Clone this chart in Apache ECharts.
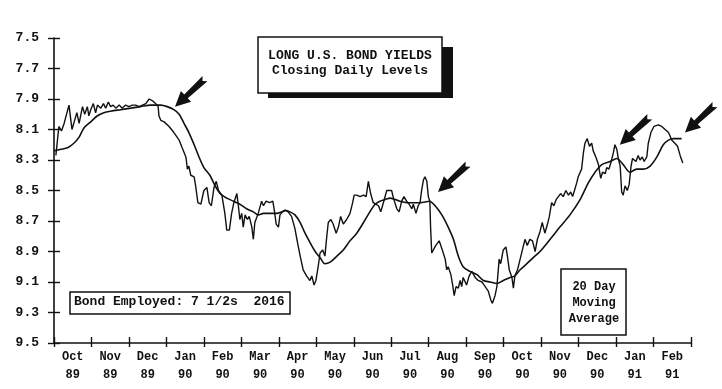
<!DOCTYPE html>
<html><head><meta charset="utf-8">
<script src="https://cdn.jsdelivr.net/npm/echarts@6/dist/echarts.min.js"></script>
<style>html,body{margin:0;padding:0;background:#fff}#c{width:722px;height:389px}</style>
</head><body><div id="c"></div>
<script>
// x positions in months since 1 Oct 1989 (0 = start of Oct 89, 17 = end of Feb 91)
const monthLabels = ['Oct','Nov','Dec','Jan','Feb','Mar','Apr','May','Jun','Jul','Aug','Sep','Oct','Nov','Dec','Jan','Feb'];
const yearLabels  = ['89','89','89','90','90','90','90','90','90','90','90','90','90','90','90','91','91'];

const dailyX = [0.05,0.13,0.2,0.27,0.4,0.45,0.48,0.55,0.61,0.67,0.76,0.82,0.89,0.93,0.98,1.05,1.11,1.16,1.25,1.32,
1.38,1.45,1.51,1.58,1.65,1.74,1.82,1.91,2.0,2.09,2.18,2.27,2.36,2.45,2.54,2.62,2.71,2.78,2.8,2.85,
2.94,3.07,3.2,3.34,3.42,3.52,3.56,3.6,3.65,3.74,3.78,3.84,3.92,4.0,4.08,4.14,4.2,4.27,4.33,4.39,
4.48,4.56,4.61,4.68,4.74,4.8,4.88,4.92,4.96,5.01,5.05,5.1,5.16,5.21,5.28,5.32,5.36,5.45,5.54,5.59,
5.66,5.75,5.84,5.88,5.93,5.99,6.03,6.1,6.17,6.25,6.34,6.43,6.49,6.57,6.65,6.74,6.83,6.88,6.94,6.99,
7.05,7.1,7.17,7.23,7.28,7.32,7.39,7.45,7.53,7.59,7.65,7.72,7.81,7.9,7.97,8.01,8.08,8.17,8.26,8.33,
8.39,8.45,8.52,8.59,8.66,8.72,8.79,8.88,9.01,9.07,9.15,9.21,9.28,9.34,9.41,9.48,9.55,9.59,9.66,9.72,
9.77,9.81,9.86,9.9,9.95,9.99,10.03,10.05,10.08,10.12,10.19,10.23,10.28,10.35,10.39,10.44,10.48,10.52,10.59,10.64,
10.68,10.73,10.79,10.84,10.88,10.92,11.01,11.08,11.15,11.24,11.32,11.42,11.48,11.53,11.59,11.66,11.7,11.77,11.82,11.88,
11.92,11.99,12.06,12.1,12.15,12.22,12.26,12.3,12.37,12.44,12.51,12.57,12.63,12.7,12.77,12.84,12.9,12.97,13.03,13.1,
13.17,13.22,13.28,13.34,13.4,13.46,13.52,13.59,13.66,13.73,13.79,13.84,13.89,13.95,13.99,14.04,14.08,14.13,14.17,14.23,
14.29,14.35,14.39,14.46,14.53,14.59,14.64,14.71,14.75,14.81,14.87,14.93,14.97,15.02,15.06,15.11,15.15,15.19,15.24,15.3,
15.35,15.4,15.44,15.48,15.53,15.59,15.64,15.7,15.75,15.82,15.86,15.93,16.01,16.13,16.22,16.31,16.4,16.49,16.57,16.64,
16.71,16.78];
const dailyYield = [8.27,8.08,8.11,8.06,7.94,8.04,8.10,8.04,7.99,8.06,7.95,8.00,7.95,8.01,7.97,7.93,7.99,7.94,7.96,7.93,
7.96,7.92,7.95,7.94,7.96,7.94,7.96,7.94,7.95,7.94,7.94,7.95,7.94,7.93,7.90,7.91,7.93,7.95,8.01,8.04,
8.05,8.08,8.12,8.17,8.22,8.28,8.36,8.34,8.40,8.41,8.47,8.58,8.59,8.50,8.48,8.58,8.60,8.48,8.44,8.50,
8.53,8.65,8.76,8.76,8.65,8.58,8.52,8.60,8.69,8.65,8.74,8.66,8.69,8.67,8.74,8.82,8.71,8.65,8.57,8.60,
8.57,8.58,8.57,8.63,8.72,8.74,8.66,8.64,8.63,8.64,8.67,8.75,8.83,8.93,9.02,9.06,9.09,9.06,9.12,9.09,
9.00,8.91,8.89,8.93,8.80,8.71,8.69,8.72,8.78,8.74,8.67,8.72,8.69,8.65,8.58,8.53,8.53,8.54,8.53,8.54,
8.44,8.52,8.58,8.59,8.60,8.64,8.58,8.50,8.50,8.56,8.62,8.64,8.57,8.54,8.57,8.59,8.62,8.59,8.65,8.60,
8.58,8.50,8.43,8.41,8.44,8.54,8.57,8.74,8.91,8.90,8.86,8.87,8.83,8.88,8.87,8.95,9.02,9.00,9.05,9.12,
9.19,9.13,9.14,9.09,9.13,9.07,9.12,9.06,9.03,9.07,9.09,9.10,9.12,9.11,9.16,9.22,9.24,9.19,9.13,8.95,
8.98,8.89,8.87,8.93,9.02,9.07,9.14,9.06,9.02,8.95,8.88,8.82,8.86,8.82,8.83,8.90,8.82,8.77,8.71,8.78,
8.72,8.67,8.58,8.60,8.56,8.54,8.52,8.54,8.50,8.53,8.51,8.54,8.50,8.45,8.41,8.42,8.36,8.25,8.19,8.16,
8.21,8.19,8.24,8.28,8.33,8.42,8.38,8.39,8.35,8.36,8.31,8.25,8.20,8.23,8.29,8.34,8.51,8.53,8.47,8.50,
8.46,8.34,8.29,8.28,8.31,8.27,8.30,8.28,8.31,8.28,8.19,8.12,8.08,8.07,8.08,8.10,8.12,8.17,8.19,8.21,
8.27,8.32];

const maX = [0,0.18,0.36,0.53,0.67,0.8,0.98,1.16,1.33,1.51,1.78,2.05,2.31,2.58,2.85,3.02,3.2,3.34,3.47,3.6,
3.74,3.87,4.0,4.16,4.3,4.43,4.61,4.79,4.96,5.14,5.32,5.45,5.59,5.76,5.94,6.08,6.17,6.3,6.43,6.57,
6.7,6.83,6.97,7.1,7.23,7.37,7.55,7.72,7.9,8.08,8.26,8.43,8.57,8.7,8.83,8.97,9.23,9.5,9.77,10.02,
10.17,10.35,10.52,10.66,10.79,10.92,11.1,11.28,11.46,11.64,11.82,11.99,12.17,12.3,12.44,12.62,12.79,12.97,13.24,13.5,
13.77,14.04,14.26,14.44,14.62,14.84,15.02,15.19,15.37,15.55,15.73,15.91,16.09,16.26,16.4,16.53,16.75];
const maYield = [8.24,8.23,8.22,8.19,8.15,8.09,8.05,8.01,7.99,7.98,7.97,7.96,7.95,7.94,7.94,7.95,7.97,8.00,8.06,8.12,
8.20,8.28,8.35,8.40,8.47,8.52,8.55,8.57,8.59,8.62,8.64,8.66,8.65,8.65,8.65,8.64,8.63,8.64,8.66,8.71,
8.78,8.84,8.90,8.94,8.98,8.97,8.93,8.89,8.83,8.78,8.71,8.64,8.59,8.57,8.56,8.55,8.57,8.58,8.58,8.57,
8.60,8.66,8.74,8.82,8.93,9.00,9.03,9.05,9.09,9.10,9.11,9.09,9.07,9.06,9.02,8.98,8.94,8.90,8.82,8.74,
8.66,8.56,8.45,8.38,8.33,8.31,8.29,8.33,8.38,8.36,8.36,8.34,8.28,8.20,8.17,8.16,8.16];

// arrow annotations: tip positions (month, yield)
const arrowTipX = [3.23, 10.25, 15.1, 16.84];
const arrowTipY = [7.95, 8.51, 8.20, 8.12];

const FONT = '"Liberation Mono","DejaVu Sans Mono",monospace';
const INK = '#111';

function pairs(xs, ys){ const n=Math.min(xs.length, ys.length); const out=[]; for(let i=0;i<n;i++) out.push([xs[i], ys[i]]); return out; }

const chart = echarts.init(document.getElementById('c'), null, {renderer:'canvas'});
const option = {
  animation:false,
  backgroundColor:'#fff',
  grid:{left:54, right:31, top:38, bottom:46},
  xAxis:[
    {type:'value', min:0, max:17, interval:1, position:'bottom',
     axisLine:{show:true, lineStyle:{color:INK, width:1.6}},
     axisTick:{show:true, inside:false, length:4, lineStyle:{color:INK, width:1.4}},
     axisLabel:{show:false}, splitLine:{show:false}},
    {type:'value', min:0, max:17, interval:1, position:'bottom', offset:0,
     axisLine:{show:false},
     axisTick:{show:true, inside:true, length:6, lineStyle:{color:INK, width:1.4}},
     axisLabel:{show:false}, splitLine:{show:false}},
    {type:'category', data:monthLabels.map((m,i)=>m+'\n'+yearLabels[i]), boundaryGap:true, position:'bottom', offset:0,
     axisLine:{show:false}, axisTick:{show:false}, splitLine:{show:false},
     axisLabel:{show:true, interval:0, margin:5, color:INK, fontFamily:FONT, fontWeight:'bold', fontSize:12, lineHeight:18}}
  ],
  yAxis:[
    {type:'value', inverse:true, min:7.5, max:9.5, interval:0.2, position:'left',
     axisLine:{show:true, lineStyle:{color:INK, width:1.6}},
     axisTick:{show:true, inside:false, length:6, lineStyle:{color:INK, width:1.4}},
     axisLabel:{show:true, margin:15, color:INK, fontFamily:FONT, fontWeight:'bold', fontSize:13,
       formatter:v=>v.toFixed(1)},
     splitLine:{show:false}},
    {type:'value', inverse:true, min:7.5, max:9.5, interval:0.2, position:'left', offset:0,
     axisLine:{show:false},
     axisTick:{show:true, inside:true, length:6, lineStyle:{color:INK, width:1.4}},
     axisLabel:{show:false}, splitLine:{show:false}}
  ],
  series:[
    {name:'Daily', type:'line', xAxisIndex:0, yAxisIndex:0, data:pairs(dailyX, dailyYield),
     showSymbol:false, symbol:'none', lineStyle:{color:INK, width:1.4}, z:3},
    {name:'20 Day Moving Average', type:'line', xAxisIndex:0, yAxisIndex:0, data:pairs(maX, maYield),
     showSymbol:false, symbol:'none', smooth:0.3, lineStyle:{color:INK, width:1.6}, z:3}
  ]
};
chart.setOption(option);

function arrowShape(tx, ty){
  const dx = 30, dy = -28;
  const L = Math.hypot(dx,dy), ux = dx/L, uy = dy/L, nx = -uy, ny = ux;
  const hl = 15, hw = 7.5, sw = 2.6, tw = 3.6, notch = 3.5;
  const hbx = tx+ux*hl, hby = ty+uy*hl, ex = tx+dx, ey = ty+dy;
  return [
    [tx,ty],
    [hbx+nx*hw, hby+ny*hw],
    [hbx+nx*sw, hby+ny*sw],
    [ex+nx*tw, ey+ny*tw],
    [ex-ux*notch, ey-uy*notch],
    [ex-nx*tw, ey-ny*tw],
    [hbx-nx*sw, hby-ny*sw],
    [hbx-nx*hw, hby-ny*hw]
  ];
}

const graphics = [];
for (let i=0;i<arrowTipX.length;i++){
  const p = chart.convertToPixel({xAxisIndex:0, yAxisIndex:0}, [arrowTipX[i], arrowTipY[i]]);
  graphics.push({type:'polygon', shape:{points:arrowShape(p[0], p[1])}, style:{fill:INK}, z:10});
}
// title box with shadow
graphics.push({type:'rect', shape:{x:268, y:47, width:185, height:51}, style:{fill:INK}, z:10});
graphics.push({type:'rect', shape:{x:258, y:37, width:184, height:56}, style:{fill:'#fff', stroke:INK, lineWidth:1.5}, z:11});
graphics.push({type:'text', x:350, y:56, style:{text:'LONG U.S. BOND YIELDS', fill:INK, font:'bold 13px '+FONT, align:'center', verticalAlign:'middle'}, z:12});
graphics.push({type:'text', x:350, y:71, style:{text:'Closing Daily Levels', fill:INK, font:'bold 13px '+FONT, align:'center', verticalAlign:'middle'}, z:12});
// bond box
graphics.push({type:'rect', shape:{x:70, y:292, width:220, height:22}, style:{fill:'#fff', stroke:INK, lineWidth:1.5}, z:11});
graphics.push({type:'text', x:74, y:302, style:{text:'Bond Employed: 7 1/2s  2016', fill:INK, font:'bold 13px '+FONT, align:'left', verticalAlign:'middle'}, z:12});
// moving average box
graphics.push({type:'rect', shape:{x:561, y:269, width:65, height:66}, style:{fill:'#fff', stroke:INK, lineWidth:1.5}, z:11});
graphics.push({type:'text', x:594, y:303, style:{text:'20 Day\nMoving\nAverage', fill:INK, font:'bold 12px '+FONT, align:'center', verticalAlign:'middle', lineHeight:16}, z:12});

chart.setOption({graphic:graphics});
</script>
</body></html>
